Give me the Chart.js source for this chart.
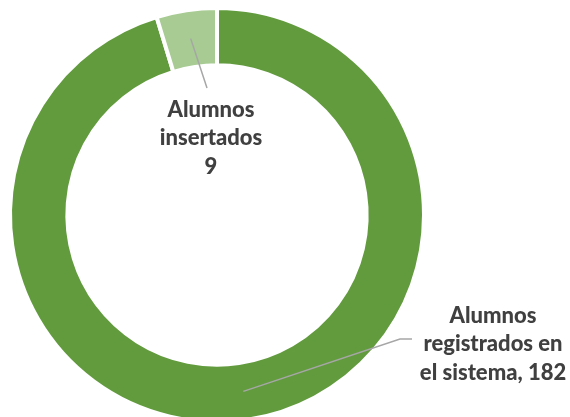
<!DOCTYPE html>
<html>
<head>
<meta charset="utf-8">
<script src="https://cdn.jsdelivr.net/npm/chart.js@4.4.1/dist/chart.umd.min.js"></script>
<style>
  html, body { margin: 0; padding: 0; background: #fff; overflow: hidden; }
  #wrap { width: 570px; height: 430px; position: relative; }
</style>
</head>
<body>
<div id="wrap"><canvas id="alumnosChart"></canvas></div>
<script>
// datos del grafico
const categorias = ['Alumnos registrados en el sistema', 'Alumnos insertados'];
const valores = [182, 9];
const colores = ['#629B3E', '#A7CB92'];

// lineas de cada etiqueta (la ultima lleva el valor)
const etiquetas = [
    ['Alumnos', 'registrados en', 'el sistema, ' + valores[0]],
    ['Alumnos', 'insertados', String(valores[1])]
];

// posicion de cada etiqueta respecto al centro del anillo
const etiquetaPos = [
    { dx: 276, dy: 129, lineEnd: { dx: 183, dy: 124 }, elbow: 12 },
    { dx: -6, dy: -77, lineEnd: { dx: -10, dy: -127 }, elbow: 0 }
];

// plugin para dibujar las etiquetas con sus lineas guia
const etiquetasPlugin = {
    id: 'etiquetas',
    afterDraw(chart) {
        const ctx = chart.ctx;
        const arcs = chart.getDatasetMeta(0).data;
        arcs.forEach((arc, i) => {
            const p = arc.getProps(['x', 'y', 'startAngle', 'endAngle', 'innerRadius', 'outerRadius'], true);
            const mid = (p.startAngle + p.endAngle) / 2;
            const r = (p.innerRadius + p.outerRadius) / 2;
            const sx = p.x + Math.cos(mid) * r;
            const sy = p.y + Math.sin(mid) * r;
            const pos = etiquetaPos[i];
            const ex = p.x + pos.lineEnd.dx;
            const ey = p.y + pos.lineEnd.dy;

            ctx.save();
            ctx.strokeStyle = '#A6A6A6';
            ctx.lineWidth = 1.5;
            ctx.beginPath();
            ctx.moveTo(sx, sy);
            ctx.lineTo(ex, ey);
            if (pos.elbow) ctx.lineTo(ex + pos.elbow, ey);
            ctx.stroke();

            ctx.fillStyle = '#404040';
            ctx.font = '900 22px Lato';
            ctx.textAlign = 'center';
            ctx.textBaseline = 'middle';
            const lineas = etiquetas[i];
            const alto = 28.5;
            const cx = p.x + pos.dx;
            const cy = p.y + pos.dy;
            lineas.forEach((t, j) => {
                ctx.fillText(t, cx, cy + (j - (lineas.length - 1) / 2) * alto);
            });
            ctx.restore();
        });
    }
};

const ctx = document.getElementById('alumnosChart').getContext('2d');
new Chart(ctx, {
    type: 'doughnut',
    data: {
        labels: categorias,
        datasets: [{
            data: valores,
            backgroundColor: colores,
            borderColor: '#ffffff',
            borderWidth: 4,
            hoverOffset: 0
        }]
    },
    options: {
        responsive: true,
        maintainAspectRatio: false,
        animation: false,
        radius: 207,
        cutout: 154,
        layout: { padding: { left: 0, right: 136, top: 0, bottom: 0 } },
        plugins: {
            legend: { display: false },
            tooltip: { enabled: false }
        }
    },
    plugins: [etiquetasPlugin]
});
</script>
</body>
</html>
